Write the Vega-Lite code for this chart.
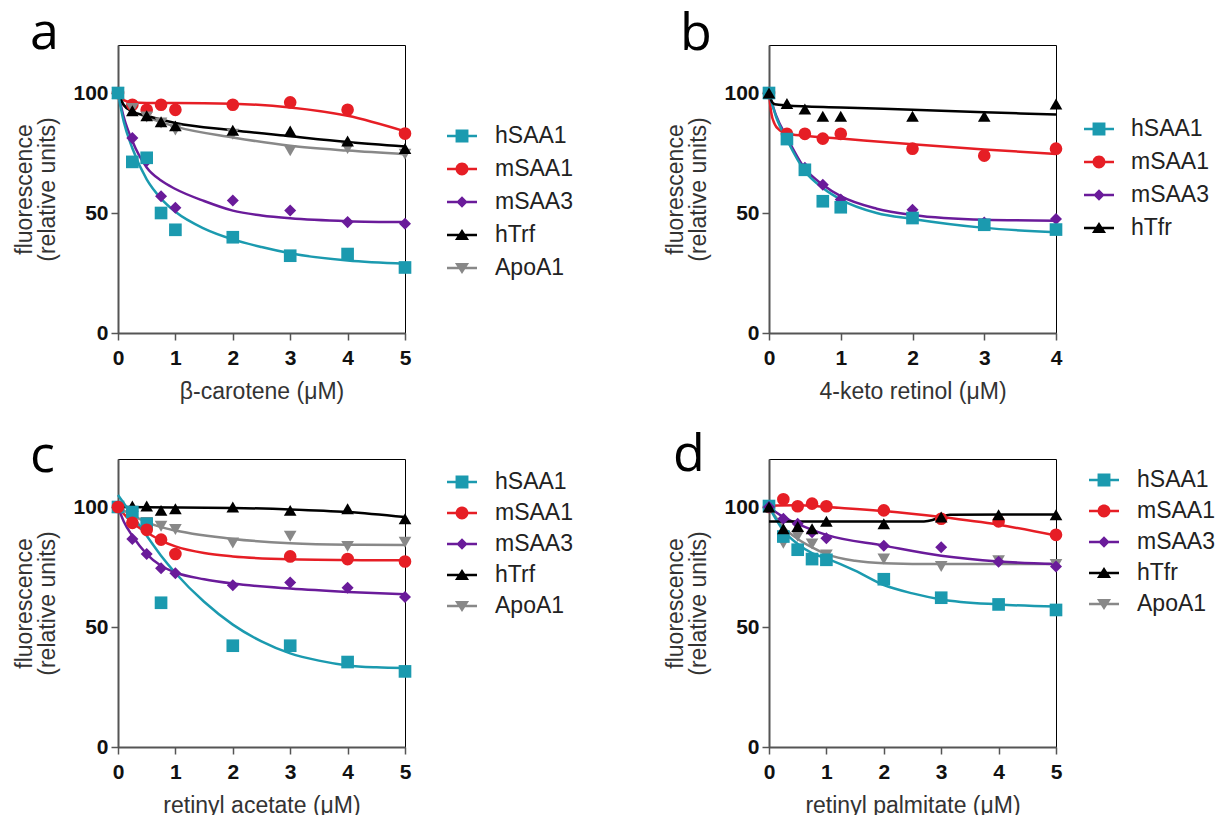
{
  "$schema": "https://vega.github.io/schema/vega-lite/v6.json",
  "padding": {"left": 13, "top": 6, "right": 0, "bottom": 0},
  "background": "white",
  "bounds": "flush",
  "spacing": 414,
  "config": {
    "font": "Liberation Sans",
    "view": {"stroke": "#000000", "strokeWidth": 1},
    "axis": {
      "grid": false,
      "labelFont": "Liberation Sans",
      "labelFontWeight": "bold",
      "labelFontSize": 21,
      "labelColor": "#111111",
      "domainColor": "#555555",
      "domainWidth": 2,
      "tickColor": "#555555",
      "tickWidth": 1.5,
      "tickSize": 7,
      "format": "d",
      "titleFont": "Liberation Sans",
      "titleFontWeight": "normal",
      "titleFontSize": 23,
      "titleColor": "#333333"
    },
    "axisX": {"labelPadding": 7, "titlePadding": 12, "labelFlush": false},
    "axisY": {"labelPadding": 3, "titlePadding": 13, "titleLineHeight": 23},
    "legend": {
      "title": null,
      "orient": "none",
      "padding": 0,
      "labelFont": "Liberation Sans",
      "labelFontSize": 23,
      "labelColor": "#222222",
      "symbolSize": 900,
      "symbolStrokeWidth": 0,
      "symbolOpacity": 1,
      "rowPadding": 6,
      "labelOffset": 18
    },
    "title": {
      "font": "Open Sans",
      "fontSize": 52,
      "fontWeight": "normal",
      "color": "#000000",
      "anchor": "start",
      "frame": "group",
      "baseline": "alphabetic",
      "offset": 0
    }
  },
  "resolve": {
    "scale": {"color": "independent", "shape": "independent", "stroke": "independent"},
    "legend": {"color": "independent", "shape": "independent"}
  },
  "vconcat": [
    {
      "bounds": "flush",
      "spacing": 364,
      "resolve": {
        "scale": {"color": "independent", "shape": "independent", "stroke": "independent"},
        "legend": {"color": "independent", "shape": "independent"}
      },
      "hconcat": [
        {
          "title": {"text": "a", "dx": -88, "dy": 19},
          "width": 287,
          "height": 288,
          "layer": [
            {
              "data": {"values": [
                {"series": "mSAA1", "x": 0, "y": 100}, {"series": "mSAA1", "x": 0.1, "y": 97}, {"series": "mSAA1", "x": 0.25, "y": 96}, {"series": "mSAA1", "x": 0.5, "y": 95.8}, {"series": "mSAA1", "x": 1, "y": 95.8}, {"series": "mSAA1", "x": 2, "y": 95.5}, {"series": "mSAA1", "x": 3, "y": 94}, {"series": "mSAA1", "x": 4, "y": 90.5}, {"series": "mSAA1", "x": 5, "y": 84},
                {"series": "mSAA3", "x": 0, "y": 100}, {"series": "mSAA3", "x": 0.1, "y": 90}, {"series": "mSAA3", "x": 0.25, "y": 80}, {"series": "mSAA3", "x": 0.5, "y": 69}, {"series": "mSAA3", "x": 0.75, "y": 63.5}, {"series": "mSAA3", "x": 1, "y": 60}, {"series": "mSAA3", "x": 1.5, "y": 55}, {"series": "mSAA3", "x": 2, "y": 51}, {"series": "mSAA3", "x": 2.5, "y": 49}, {"series": "mSAA3", "x": 3, "y": 47.8}, {"series": "mSAA3", "x": 4, "y": 46.6}, {"series": "mSAA3", "x": 5, "y": 46.2},
                {"series": "ApoA1", "x": 0, "y": 100}, {"series": "ApoA1", "x": 0.1, "y": 95}, {"series": "ApoA1", "x": 0.25, "y": 92.5}, {"series": "ApoA1", "x": 0.5, "y": 90}, {"series": "ApoA1", "x": 1, "y": 86}, {"series": "ApoA1", "x": 2, "y": 81.5}, {"series": "ApoA1", "x": 3, "y": 78}, {"series": "ApoA1", "x": 4, "y": 76}, {"series": "ApoA1", "x": 5, "y": 74.5},
                {"series": "hTrf", "x": 0, "y": 100}, {"series": "hTrf", "x": 0.1, "y": 95}, {"series": "hTrf", "x": 0.25, "y": 92.3}, {"series": "hTrf", "x": 0.5, "y": 90.5}, {"series": "hTrf", "x": 1, "y": 87.5}, {"series": "hTrf", "x": 2, "y": 84.5}, {"series": "hTrf", "x": 3, "y": 82}, {"series": "hTrf", "x": 4, "y": 79.6}, {"series": "hTrf", "x": 5, "y": 77.7},
                {"series": "hSAA1", "x": 0, "y": 100}, {"series": "hSAA1", "x": 0.1, "y": 88}, {"series": "hSAA1", "x": 0.25, "y": 77}, {"series": "hSAA1", "x": 0.5, "y": 64}, {"series": "hSAA1", "x": 0.75, "y": 56}, {"series": "hSAA1", "x": 1, "y": 50.5}, {"series": "hSAA1", "x": 1.5, "y": 43.5}, {"series": "hSAA1", "x": 2, "y": 39}, {"series": "hSAA1", "x": 2.5, "y": 35.8}, {"series": "hSAA1", "x": 3, "y": 33.2}, {"series": "hSAA1", "x": 4, "y": 30.2}, {"series": "hSAA1", "x": 5, "y": 28.9}
              ]},
              "mark": {"type": "line", "interpolate": "monotone", "strokeWidth": 2.5},
              "encoding": {
                "x": {"field": "x", "type": "quantitative", "scale": {"domain": [0, 5], "nice": false}, "axis": {"title": "β-carotene (μM)", "values": [0, 1, 2, 3, 4, 5]}},
                "y": {"field": "y", "type": "quantitative", "scale": {"domain": [0, 120], "nice": false}, "axis": {"title": ["fluorescence", "(relative units)"], "values": [0, 50, 100]}},
                "stroke": {"field": "series", "type": "nominal", "scale": {"domain": ["ApoA1", "hTrf", "mSAA3", "mSAA1", "hSAA1"], "range": ["#888888", "#000000", "#6a1b9a", "#e61e25", "#1b9aaf"]}, "legend": null},
                "detail": {"field": "series"}
              }
            },
            {
              "data": {"values": [
                {"series": "mSAA1", "x": 0, "y": 100}, {"series": "mSAA1", "x": 0.25, "y": 95.1}, {"series": "mSAA1", "x": 0.5, "y": 93}, {"series": "mSAA1", "x": 0.75, "y": 95.1}, {"series": "mSAA1", "x": 1, "y": 93}, {"series": "mSAA1", "x": 2, "y": 95.1}, {"series": "mSAA1", "x": 3, "y": 96.1}, {"series": "mSAA1", "x": 4, "y": 93}, {"series": "mSAA1", "x": 5, "y": 83.1},
                {"series": "mSAA3", "x": 0, "y": 100}, {"series": "mSAA3", "x": 0.25, "y": 81.2}, {"series": "mSAA3", "x": 0.5, "y": 71.7}, {"series": "mSAA3", "x": 0.75, "y": 57}, {"series": "mSAA3", "x": 1, "y": 52.2}, {"series": "mSAA3", "x": 2, "y": 55.2}, {"series": "mSAA3", "x": 3, "y": 51}, {"series": "mSAA3", "x": 4, "y": 46.2}, {"series": "mSAA3", "x": 5, "y": 45.5},
                {"series": "ApoA1", "x": 0, "y": 100}, {"series": "ApoA1", "x": 0.25, "y": 93.5}, {"series": "ApoA1", "x": 0.5, "y": 90}, {"series": "ApoA1", "x": 0.75, "y": 87.5}, {"series": "ApoA1", "x": 1, "y": 84.6}, {"series": "ApoA1", "x": 2, "y": 82.8}, {"series": "ApoA1", "x": 3, "y": 75.9}, {"series": "ApoA1", "x": 4, "y": 76.9}, {"series": "ApoA1", "x": 5, "y": 74.5},
                {"series": "hTrf", "x": 0, "y": 100}, {"series": "hTrf", "x": 0.25, "y": 92.6}, {"series": "hTrf", "x": 0.5, "y": 90.5}, {"series": "hTrf", "x": 0.75, "y": 88}, {"series": "hTrf", "x": 1, "y": 86.3}, {"series": "hTrf", "x": 2, "y": 84.5}, {"series": "hTrf", "x": 3, "y": 84.2}, {"series": "hTrf", "x": 4, "y": 80}, {"series": "hTrf", "x": 5, "y": 76.9},
                {"series": "hSAA1", "x": 0, "y": 100}, {"series": "hSAA1", "x": 0.25, "y": 71.3}, {"series": "hSAA1", "x": 0.5, "y": 73}, {"series": "hSAA1", "x": 0.75, "y": 50}, {"series": "hSAA1", "x": 1, "y": 43}, {"series": "hSAA1", "x": 2, "y": 39.9}, {"series": "hSAA1", "x": 3, "y": 32.2}, {"series": "hSAA1", "x": 4, "y": 32.9}, {"series": "hSAA1", "x": 5, "y": 27.3}
              ]},
              "mark": {"type": "point", "filled": true, "opacity": 1, "strokeWidth": 0, "size": 160},
              "encoding": {
                "x": {"field": "x", "type": "quantitative"},
                "y": {"field": "y", "type": "quantitative"},
                "color": {"field": "series", "type": "nominal", "scale": {"domain": ["hSAA1", "mSAA1", "mSAA3", "hTrf", "ApoA1"], "range": ["#1b9aaf", "#e61e25", "#6a1b9a", "#000000", "#888888"]},
                  "legend": {"legendX": 329, "legendY": 76, "encoding": {"symbols": {"size": {"value": 900}, "shape": {"value": {"expr": "datum.value === 'hSAA1' ? 'M-1,-0.08H1V0.08H-1Z M-0.43,-0.43H0.43V0.43H-0.43Z' : datum.value === 'mSAA1' ? 'M-1,-0.08H1V0.08H-1Z M-0.43,0A0.43,0.43 0 1,1 0.43,0A0.43,0.43 0 1,1 -0.43,0Z' : datum.value === 'mSAA3' ? 'M-1,-0.08H1V0.08H-1Z M0,-0.38L0.38,0L0,0.38L-0.38,0Z' : datum.value === 'ApoA1' ? 'M-1,-0.08H1V0.08H-1Z M0,0.4L-0.47,-0.33L0.47,-0.33Z' : 'M-1,-0.08H1V0.08H-1Z M0,-0.4L0.47,0.33L-0.47,0.33Z'"}}}}}},
                "shape": {"field": "series", "type": "nominal", "scale": {"domain": ["ApoA1", "hTrf", "mSAA3", "mSAA1", "hSAA1"], "range": ["triangle-down", "triangle-up", "M0,-0.95L0.95,0L0,0.95L-0.95,0Z", "circle", "square"]}, "legend": null}
              }
            }
          ]
        },
        {
          "title": {"text": "b", "dx": -89, "dy": 20},
          "width": 287,
          "height": 288,
          "layer": [
            {
              "data": {"values": [
                {"series": "mSAA1", "x": 0, "y": 100}, {"series": "mSAA1", "x": 0.03, "y": 92}, {"series": "mSAA1", "x": 0.08, "y": 87}, {"series": "mSAA1", "x": 0.15, "y": 84.5}, {"series": "mSAA1", "x": 0.25, "y": 83}, {"series": "mSAA1", "x": 0.5, "y": 82.2}, {"series": "mSAA1", "x": 1, "y": 81}, {"series": "mSAA1", "x": 2, "y": 78.6}, {"series": "mSAA1", "x": 3, "y": 76.5}, {"series": "mSAA1", "x": 4, "y": 74.6},
                {"series": "mSAA3", "x": 0, "y": 100}, {"series": "mSAA3", "x": 0.1, "y": 90.5}, {"series": "mSAA3", "x": 0.25, "y": 81.5}, {"series": "mSAA3", "x": 0.5, "y": 68.5}, {"series": "mSAA3", "x": 0.75, "y": 61.8}, {"series": "mSAA3", "x": 1, "y": 57}, {"series": "mSAA3", "x": 1.5, "y": 51.8}, {"series": "mSAA3", "x": 2, "y": 49.2}, {"series": "mSAA3", "x": 3, "y": 47.2}, {"series": "mSAA3", "x": 4, "y": 46.8},
                {"series": "hSAA1", "x": 0, "y": 100}, {"series": "hSAA1", "x": 0.1, "y": 90}, {"series": "hSAA1", "x": 0.25, "y": 80.5}, {"series": "hSAA1", "x": 0.5, "y": 67.4}, {"series": "hSAA1", "x": 0.75, "y": 60.4}, {"series": "hSAA1", "x": 1, "y": 55.6}, {"series": "hSAA1", "x": 1.5, "y": 50}, {"series": "hSAA1", "x": 2, "y": 47.5}, {"series": "hSAA1", "x": 3, "y": 43.8}, {"series": "hSAA1", "x": 4, "y": 42},
                {"series": "hTfr", "x": 0, "y": 100}, {"series": "hTfr", "x": 0.03, "y": 97}, {"series": "hTfr", "x": 0.08, "y": 95.3}, {"series": "hTfr", "x": 0.25, "y": 94.8}, {"series": "hTfr", "x": 1, "y": 94}, {"series": "hTfr", "x": 2, "y": 93}, {"series": "hTfr", "x": 3, "y": 92}, {"series": "hTfr", "x": 4, "y": 91}
              ]},
              "mark": {"type": "line", "interpolate": "monotone", "strokeWidth": 2.5},
              "encoding": {
                "x": {"field": "x", "type": "quantitative", "scale": {"domain": [0, 4], "nice": false}, "axis": {"title": "4-keto retinol (μM)", "values": [0, 1, 2, 3, 4]}},
                "y": {"field": "y", "type": "quantitative", "scale": {"domain": [0, 120], "nice": false}, "axis": {"title": ["fluorescence", "(relative units)"], "values": [0, 50, 100]}},
                "stroke": {"field": "series", "type": "nominal", "scale": {"domain": ["hTfr", "mSAA3", "mSAA1", "hSAA1"], "range": ["#000000", "#6a1b9a", "#e61e25", "#1b9aaf"]}, "legend": null},
                "detail": {"field": "series"}
              }
            },
            {
              "data": {"values": [
                {"series": "mSAA1", "x": 0, "y": 100}, {"series": "mSAA1", "x": 0.25, "y": 83}, {"series": "mSAA1", "x": 0.5, "y": 83}, {"series": "mSAA1", "x": 0.75, "y": 81}, {"series": "mSAA1", "x": 1, "y": 83}, {"series": "mSAA1", "x": 2, "y": 76.8}, {"series": "mSAA1", "x": 3, "y": 73.9}, {"series": "mSAA1", "x": 4, "y": 76.8},
                {"series": "mSAA3", "x": 0, "y": 100}, {"series": "mSAA3", "x": 0.25, "y": 81}, {"series": "mSAA3", "x": 0.5, "y": 68.8}, {"series": "mSAA3", "x": 0.75, "y": 61.8}, {"series": "mSAA3", "x": 1, "y": 55.6}, {"series": "mSAA3", "x": 2, "y": 51.4}, {"series": "mSAA3", "x": 3, "y": 46}, {"series": "mSAA3", "x": 4, "y": 47.5},
                {"series": "hSAA1", "x": 0, "y": 100}, {"series": "hSAA1", "x": 0.25, "y": 80.8}, {"series": "hSAA1", "x": 0.5, "y": 68}, {"series": "hSAA1", "x": 0.75, "y": 54.9}, {"series": "hSAA1", "x": 1, "y": 52.4}, {"series": "hSAA1", "x": 2, "y": 47.9}, {"series": "hSAA1", "x": 3, "y": 45.1}, {"series": "hSAA1", "x": 4, "y": 43.1},
                {"series": "hTfr", "x": 0, "y": 100}, {"series": "hTfr", "x": 0.25, "y": 95.6}, {"series": "hTfr", "x": 0.5, "y": 93.3}, {"series": "hTfr", "x": 0.75, "y": 90.3}, {"series": "hTfr", "x": 1, "y": 90.3}, {"series": "hTfr", "x": 2, "y": 90.3}, {"series": "hTfr", "x": 3, "y": 90.3}, {"series": "hTfr", "x": 4, "y": 95.4}
              ]},
              "mark": {"type": "point", "filled": true, "opacity": 1, "strokeWidth": 0, "size": 160},
              "encoding": {
                "x": {"field": "x", "type": "quantitative"},
                "y": {"field": "y", "type": "quantitative"},
                "color": {"field": "series", "type": "nominal", "scale": {"domain": ["hSAA1", "mSAA1", "mSAA3", "hTfr"], "range": ["#1b9aaf", "#e61e25", "#6a1b9a", "#000000"]},
                  "legend": {"legendX": 315, "legendY": 69, "labelOffset": 17, "encoding": {"symbols": {"size": {"value": 900}, "shape": {"value": {"expr": "datum.value === 'hSAA1' ? 'M-1,-0.08H1V0.08H-1Z M-0.43,-0.43H0.43V0.43H-0.43Z' : datum.value === 'mSAA1' ? 'M-1,-0.08H1V0.08H-1Z M-0.43,0A0.43,0.43 0 1,1 0.43,0A0.43,0.43 0 1,1 -0.43,0Z' : datum.value === 'mSAA3' ? 'M-1,-0.08H1V0.08H-1Z M0,-0.38L0.38,0L0,0.38L-0.38,0Z' : 'M-1,-0.08H1V0.08H-1Z M0,-0.4L0.47,0.33L-0.47,0.33Z'"}}}}}},
                "shape": {"field": "series", "type": "nominal", "scale": {"domain": ["hTfr", "mSAA3", "mSAA1", "hSAA1"], "range": ["triangle-up", "M0,-0.95L0.95,0L0,0.95L-0.95,0Z", "circle", "square"]}, "legend": null}
              }
            }
          ]
        }
      ]
    },
    {
      "bounds": "flush",
      "spacing": 364,
      "resolve": {
        "scale": {"color": "independent", "shape": "independent", "stroke": "independent"},
        "legend": {"color": "independent", "shape": "independent"}
      },
      "hconcat": [
        {
          "title": {"text": "c", "dx": -88, "dy": 28},
          "width": 287,
          "height": 288,
          "layer": [
            {
              "data": {"values": [
                {"series": "hTrf", "x": 0, "y": 100}, {"series": "hTrf", "x": 1, "y": 99.8}, {"series": "hTrf", "x": 2, "y": 99.6}, {"series": "hTrf", "x": 3, "y": 99}, {"series": "hTrf", "x": 4, "y": 97.9}, {"series": "hTrf", "x": 5, "y": 95.8},
                {"series": "ApoA1", "x": 0, "y": 100}, {"series": "ApoA1", "x": 0.25, "y": 96.5}, {"series": "ApoA1", "x": 0.5, "y": 93.7}, {"series": "ApoA1", "x": 0.75, "y": 91.6}, {"series": "ApoA1", "x": 1, "y": 90.2}, {"series": "ApoA1", "x": 2, "y": 86.7}, {"series": "ApoA1", "x": 3, "y": 84.9}, {"series": "ApoA1", "x": 4, "y": 84.3}, {"series": "ApoA1", "x": 5, "y": 84.2},
                {"series": "mSAA3", "x": 0, "y": 100}, {"series": "mSAA3", "x": 0.1, "y": 94}, {"series": "mSAA3", "x": 0.25, "y": 88}, {"series": "mSAA3", "x": 0.5, "y": 80.4}, {"series": "mSAA3", "x": 0.75, "y": 75.5}, {"series": "mSAA3", "x": 1, "y": 72.7}, {"series": "mSAA3", "x": 1.5, "y": 69.9}, {"series": "mSAA3", "x": 2, "y": 68.1}, {"series": "mSAA3", "x": 3, "y": 66}, {"series": "mSAA3", "x": 4, "y": 64.6}, {"series": "mSAA3", "x": 5, "y": 63.6},
                {"series": "hSAA1", "x": 0, "y": 105}, {"series": "hSAA1", "x": 0.25, "y": 96.5}, {"series": "hSAA1", "x": 0.5, "y": 88}, {"series": "hSAA1", "x": 0.75, "y": 79.7}, {"series": "hSAA1", "x": 1, "y": 72.5}, {"series": "hSAA1", "x": 1.5, "y": 60.5}, {"series": "hSAA1", "x": 2, "y": 51}, {"series": "hSAA1", "x": 2.5, "y": 44}, {"series": "hSAA1", "x": 3, "y": 39}, {"series": "hSAA1", "x": 3.5, "y": 36}, {"series": "hSAA1", "x": 4, "y": 34}, {"series": "hSAA1", "x": 4.5, "y": 33.2}, {"series": "hSAA1", "x": 5, "y": 32.9},
                {"series": "mSAA1", "x": 0, "y": 100}, {"series": "mSAA1", "x": 0.25, "y": 93.4}, {"series": "mSAA1", "x": 0.5, "y": 89.5}, {"series": "mSAA1", "x": 0.75, "y": 86}, {"series": "mSAA1", "x": 1, "y": 83.6}, {"series": "mSAA1", "x": 1.5, "y": 80.8}, {"series": "mSAA1", "x": 2, "y": 79.4}, {"series": "mSAA1", "x": 3, "y": 78.2}, {"series": "mSAA1", "x": 4, "y": 77.9}, {"series": "mSAA1", "x": 5, "y": 77.8}
              ]},
              "mark": {"type": "line", "interpolate": "monotone", "strokeWidth": 2.5},
              "encoding": {
                "x": {"field": "x", "type": "quantitative", "scale": {"domain": [0, 5], "nice": false}, "axis": {"title": "retinyl acetate (μM)", "values": [0, 1, 2, 3, 4, 5]}},
                "y": {"field": "y", "type": "quantitative", "scale": {"domain": [0, 120], "nice": false}, "axis": {"title": ["fluorescence", "(relative units)"], "values": [0, 50, 100]}},
                "stroke": {"field": "series", "type": "nominal", "scale": {"domain": ["ApoA1", "hTrf", "mSAA3", "mSAA1", "hSAA1"], "range": ["#888888", "#000000", "#6a1b9a", "#e61e25", "#1b9aaf"]}, "legend": null},
                "detail": {"field": "series"}
              }
            },
            {
              "data": {"values": [
                {"series": "hTrf", "x": 0, "y": 100}, {"series": "hTrf", "x": 0.25, "y": 100.4}, {"series": "hTrf", "x": 0.5, "y": 100.4}, {"series": "hTrf", "x": 0.75, "y": 98.6}, {"series": "hTrf", "x": 1, "y": 99.3}, {"series": "hTrf", "x": 2, "y": 100}, {"series": "hTrf", "x": 3, "y": 98.6}, {"series": "hTrf", "x": 4, "y": 99.3}, {"series": "hTrf", "x": 5, "y": 95.1},
                {"series": "ApoA1", "x": 0.25, "y": 97}, {"series": "ApoA1", "x": 0.5, "y": 93.5}, {"series": "ApoA1", "x": 0.75, "y": 92}, {"series": "ApoA1", "x": 1, "y": 90.6}, {"series": "ApoA1", "x": 2, "y": 85}, {"series": "ApoA1", "x": 3, "y": 87.8}, {"series": "ApoA1", "x": 4, "y": 83.6}, {"series": "ApoA1", "x": 5, "y": 85.3},
                {"series": "mSAA3", "x": 0, "y": 100}, {"series": "mSAA3", "x": 0.25, "y": 86.7}, {"series": "mSAA3", "x": 0.5, "y": 80.4}, {"series": "mSAA3", "x": 0.75, "y": 74.5}, {"series": "mSAA3", "x": 1, "y": 72.4}, {"series": "mSAA3", "x": 2, "y": 67.4}, {"series": "mSAA3", "x": 3, "y": 68.5}, {"series": "mSAA3", "x": 4, "y": 66.4}, {"series": "mSAA3", "x": 5, "y": 62.5},
                {"series": "hSAA1", "x": 0, "y": 100}, {"series": "hSAA1", "x": 0.25, "y": 97.9}, {"series": "hSAA1", "x": 0.5, "y": 93}, {"series": "hSAA1", "x": 0.75, "y": 60.1}, {"series": "hSAA1", "x": 2, "y": 42.2}, {"series": "hSAA1", "x": 3, "y": 42.2}, {"series": "hSAA1", "x": 4, "y": 35.4}, {"series": "hSAA1", "x": 5, "y": 31.5},
                {"series": "mSAA1", "x": 0, "y": 100}, {"series": "mSAA1", "x": 0.25, "y": 93.4}, {"series": "mSAA1", "x": 0.5, "y": 90.5}, {"series": "mSAA1", "x": 0.75, "y": 86.4}, {"series": "mSAA1", "x": 1, "y": 80.4}, {"series": "mSAA1", "x": 3, "y": 79.4}, {"series": "mSAA1", "x": 4, "y": 78.3}, {"series": "mSAA1", "x": 5, "y": 77.3}
              ]},
              "mark": {"type": "point", "filled": true, "opacity": 1, "strokeWidth": 0, "size": 160},
              "encoding": {
                "x": {"field": "x", "type": "quantitative"},
                "y": {"field": "y", "type": "quantitative"},
                "color": {"field": "series", "type": "nominal", "scale": {"domain": ["hSAA1", "mSAA1", "mSAA3", "hTrf", "ApoA1"], "range": ["#1b9aaf", "#e61e25", "#6a1b9a", "#000000", "#888888"]},
                  "legend": {"legendX": 329, "legendY": 8, "rowPadding": 4, "encoding": {"symbols": {"size": {"value": 900}, "shape": {"value": {"expr": "datum.value === 'hSAA1' ? 'M-1,-0.08H1V0.08H-1Z M-0.43,-0.43H0.43V0.43H-0.43Z' : datum.value === 'mSAA1' ? 'M-1,-0.08H1V0.08H-1Z M-0.43,0A0.43,0.43 0 1,1 0.43,0A0.43,0.43 0 1,1 -0.43,0Z' : datum.value === 'mSAA3' ? 'M-1,-0.08H1V0.08H-1Z M0,-0.38L0.38,0L0,0.38L-0.38,0Z' : datum.value === 'ApoA1' ? 'M-1,-0.08H1V0.08H-1Z M0,0.4L-0.47,-0.33L0.47,-0.33Z' : 'M-1,-0.08H1V0.08H-1Z M0,-0.4L0.47,0.33L-0.47,0.33Z'"}}}}}},
                "shape": {"field": "series", "type": "nominal", "scale": {"domain": ["ApoA1", "hTrf", "mSAA3", "mSAA1", "hSAA1"], "range": ["triangle-down", "triangle-up", "M0,-0.95L0.95,0L0,0.95L-0.95,0Z", "circle", "square"]}, "legend": null}
              }
            }
          ]
        },
        {
          "title": {"text": "d", "dx": -96, "dy": 27},
          "width": 287,
          "height": 288,
          "layer": [
            {
              "data": {"values": [
                {"series": "mSAA1", "x": 0, "y": 100.5}, {"series": "mSAA1", "x": 0.5, "y": 100.7}, {"series": "mSAA1", "x": 1, "y": 100}, {"series": "mSAA1", "x": 2, "y": 98.3}, {"series": "mSAA1", "x": 3, "y": 95.8}, {"series": "mSAA1", "x": 4, "y": 92.6}, {"series": "mSAA1", "x": 5, "y": 88.1},
                {"series": "ApoA1", "x": 0, "y": 100}, {"series": "ApoA1", "x": 0.25, "y": 91.6}, {"series": "ApoA1", "x": 0.5, "y": 86.7}, {"series": "ApoA1", "x": 0.75, "y": 83.2}, {"series": "ApoA1", "x": 1, "y": 80.4}, {"series": "ApoA1", "x": 1.5, "y": 77.6}, {"series": "ApoA1", "x": 2, "y": 76.6}, {"series": "ApoA1", "x": 3, "y": 76.2}, {"series": "ApoA1", "x": 5, "y": 76.2},
                {"series": "hSAA1", "x": 0, "y": 100}, {"series": "hSAA1", "x": 0.25, "y": 90.2}, {"series": "hSAA1", "x": 0.5, "y": 84.6}, {"series": "hSAA1", "x": 0.75, "y": 80.8}, {"series": "hSAA1", "x": 1, "y": 78.6}, {"series": "hSAA1", "x": 1.5, "y": 73.5}, {"series": "hSAA1", "x": 2, "y": 67.5}, {"series": "hSAA1", "x": 2.5, "y": 64}, {"series": "hSAA1", "x": 3, "y": 61.5}, {"series": "hSAA1", "x": 4, "y": 59.4}, {"series": "hSAA1", "x": 5, "y": 58.5},
                {"series": "mSAA3", "x": 0, "y": 100}, {"series": "mSAA3", "x": 0.25, "y": 95.8}, {"series": "mSAA3", "x": 0.5, "y": 93}, {"series": "mSAA3", "x": 1, "y": 88.4}, {"series": "mSAA3", "x": 2, "y": 83.9}, {"series": "mSAA3", "x": 3, "y": 79.7}, {"series": "mSAA3", "x": 4, "y": 77.3}, {"series": "mSAA3", "x": 5, "y": 76.2},
                {"series": "hTfr", "x": 0, "y": 94}, {"series": "hTfr", "x": 2.7, "y": 94}, {"series": "hTfr", "x": 2.85, "y": 94.6}, {"series": "hTfr", "x": 3, "y": 96}, {"series": "hTfr", "x": 3.15, "y": 96.8}, {"series": "hTfr", "x": 5, "y": 96.9}
              ]},
              "mark": {"type": "line", "interpolate": "monotone", "strokeWidth": 2.5},
              "encoding": {
                "x": {"field": "x", "type": "quantitative", "scale": {"domain": [0, 5], "nice": false}, "axis": {"title": "retinyl palmitate (μM)", "values": [0, 1, 2, 3, 4, 5]}},
                "y": {"field": "y", "type": "quantitative", "scale": {"domain": [0, 120], "nice": false}, "axis": {"title": ["fluorescence", "(relative units)"], "values": [0, 50, 100]}},
                "stroke": {"field": "series", "type": "nominal", "scale": {"domain": ["ApoA1", "hTfr", "mSAA3", "mSAA1", "hSAA1"], "range": ["#888888", "#000000", "#6a1b9a", "#e61e25", "#1b9aaf"]}, "legend": null},
                "detail": {"field": "series"}
              }
            },
            {
              "data": {"values": [
                {"series": "mSAA1", "x": 0, "y": 100}, {"series": "mSAA1", "x": 0.25, "y": 103.2}, {"series": "mSAA1", "x": 0.5, "y": 100.3}, {"series": "mSAA1", "x": 0.75, "y": 101.4}, {"series": "mSAA1", "x": 1, "y": 100.3}, {"series": "mSAA1", "x": 2, "y": 98.6}, {"series": "mSAA1", "x": 3, "y": 95.1}, {"series": "mSAA1", "x": 4, "y": 94}, {"series": "mSAA1", "x": 5, "y": 88.4},
                {"series": "ApoA1", "x": 0.25, "y": 84.9}, {"series": "ApoA1", "x": 0.5, "y": 87.8}, {"series": "ApoA1", "x": 0.75, "y": 84.6}, {"series": "ApoA1", "x": 1, "y": 80}, {"series": "ApoA1", "x": 2, "y": 78.3}, {"series": "ApoA1", "x": 3, "y": 75.2}, {"series": "ApoA1", "x": 4, "y": 77.6}, {"series": "ApoA1", "x": 5, "y": 76},
                {"series": "hSAA1", "x": 0, "y": 100.4}, {"series": "hSAA1", "x": 0.25, "y": 87.7}, {"series": "hSAA1", "x": 0.5, "y": 82.2}, {"series": "hSAA1", "x": 0.75, "y": 78.3}, {"series": "hSAA1", "x": 1, "y": 78}, {"series": "hSAA1", "x": 2, "y": 69.9}, {"series": "hSAA1", "x": 3, "y": 62.2}, {"series": "hSAA1", "x": 4, "y": 59.4}, {"series": "hSAA1", "x": 5, "y": 57.1},
                {"series": "mSAA3", "x": 0, "y": 100}, {"series": "mSAA3", "x": 0.25, "y": 95.1}, {"series": "mSAA3", "x": 0.5, "y": 93}, {"series": "mSAA3", "x": 0.75, "y": 89.5}, {"series": "mSAA3", "x": 1, "y": 87}, {"series": "mSAA3", "x": 2, "y": 83.9}, {"series": "mSAA3", "x": 3, "y": 83.2}, {"series": "mSAA3", "x": 4, "y": 77.2}, {"series": "mSAA3", "x": 5, "y": 75.2},
                {"series": "hTfr", "x": 0, "y": 100}, {"series": "hTfr", "x": 0.25, "y": 90.9}, {"series": "hTfr", "x": 0.5, "y": 91.9}, {"series": "hTfr", "x": 0.75, "y": 90.9}, {"series": "hTfr", "x": 1, "y": 94.1}, {"series": "hTfr", "x": 2, "y": 93}, {"series": "hTfr", "x": 3, "y": 95.8}, {"series": "hTfr", "x": 4, "y": 96.8}, {"series": "hTfr", "x": 5, "y": 96.8}
              ]},
              "mark": {"type": "point", "filled": true, "opacity": 1, "strokeWidth": 0, "size": 160},
              "encoding": {
                "x": {"field": "x", "type": "quantitative"},
                "y": {"field": "y", "type": "quantitative"},
                "color": {"field": "series", "type": "nominal", "scale": {"domain": ["hSAA1", "mSAA1", "mSAA3", "hTfr", "ApoA1"], "range": ["#1b9aaf", "#e61e25", "#6a1b9a", "#000000", "#888888"]},
                  "legend": {"legendX": 320, "legendY": 6, "rowPadding": 4, "encoding": {"symbols": {"size": {"value": 900}, "shape": {"value": {"expr": "datum.value === 'hSAA1' ? 'M-1,-0.08H1V0.08H-1Z M-0.43,-0.43H0.43V0.43H-0.43Z' : datum.value === 'mSAA1' ? 'M-1,-0.08H1V0.08H-1Z M-0.43,0A0.43,0.43 0 1,1 0.43,0A0.43,0.43 0 1,1 -0.43,0Z' : datum.value === 'mSAA3' ? 'M-1,-0.08H1V0.08H-1Z M0,-0.38L0.38,0L0,0.38L-0.38,0Z' : datum.value === 'ApoA1' ? 'M-1,-0.08H1V0.08H-1Z M0,0.4L-0.47,-0.33L0.47,-0.33Z' : 'M-1,-0.08H1V0.08H-1Z M0,-0.4L0.47,0.33L-0.47,0.33Z'"}}}}}},
                "shape": {"field": "series", "type": "nominal", "scale": {"domain": ["ApoA1", "hTfr", "mSAA3", "mSAA1", "hSAA1"], "range": ["triangle-down", "triangle-up", "M0,-0.95L0.95,0L0,0.95L-0.95,0Z", "circle", "square"]}, "legend": null}
              }
            }
          ]
        }
      ]
    }
  ]
}
